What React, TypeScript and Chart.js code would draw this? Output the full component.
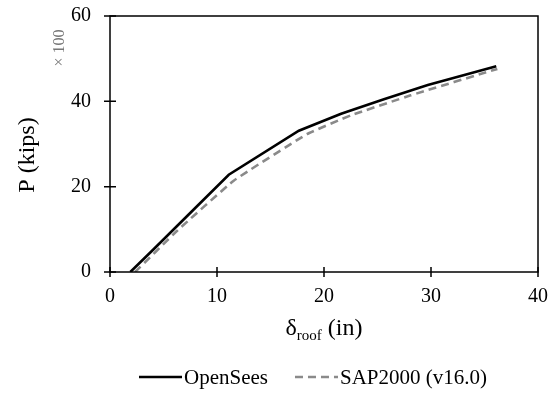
import React, { useEffect, useRef } from 'react';
import { Chart, registerables } from 'chart.js';

Chart.register(...registerables);

// Data
const openSeesDelta = [1.9, 4.1, 7.8, 11.1, 17.65, 21.6, 25.6, 29.7, 36.1];
const openSeesP = [0, 5.4, 14.6, 22.8, 33.1, 37.1, 40.5, 43.8, 48.2];
const sapDelta = [2.34, 6.25, 11.56, 18.4, 22.5, 28.1, 36.2];
const sapP = [0, 9.6, 21.4, 32.3, 36.7, 41.4, 47.6];
const seriesNames = ['OpenSees', 'SAP2000 (v16.0)'];
const xTickValues = [0, 10, 20, 30, 40];
const yTickValues = [0, 20, 40, 60];
const yTitle = 'P (kips)';
const yMultiplier = '\u00d7 100';
const xTitleMain = '\u03b4';
const xTitleSub = 'roof';
const xTitleRest = ' (in)';

const SERIF = "'Liberation Serif', 'Times New Roman', serif";

const zeroPadding = (s: any) => {
  s.paddingTop = 0;
  s.paddingBottom = 0;
  s.paddingLeft = 0;
  s.paddingRight = 0;
};

const decorPlugin = {
  id: 'decor',
  afterDraw(chart: any) {
    const ctx = chart.ctx as CanvasRenderingContext2D;
    const { left, right, top, bottom } = chart.chartArea;
    const xs = chart.scales.x;
    const ys = chart.scales.y;
    ctx.save();
    // frame
    ctx.strokeStyle = '#000';
    ctx.lineWidth = 1.5;
    ctx.setLineDash([]);
    ctx.strokeRect(left, top, right - left, bottom - top);
    // ticks crossing axes
    ctx.beginPath();
    xTickValues.forEach((v) => {
      const px = xs.getPixelForValue(v);
      ctx.moveTo(px, bottom - 5);
      ctx.lineTo(px, bottom + 5);
    });
    yTickValues.forEach((v) => {
      const py = ys.getPixelForValue(v);
      ctx.moveTo(left - 6, py);
      ctx.lineTo(left + 6, py);
    });
    ctx.stroke();

    // x title with subscript
    const mainFont = `24px ${SERIF}`;
    const subFont = `15px ${SERIF}`;
    ctx.fillStyle = '#000';
    ctx.textBaseline = 'alphabetic';
    ctx.textAlign = 'left';
    ctx.font = mainFont;
    const w1 = ctx.measureText(xTitleMain).width;
    const w3 = ctx.measureText(xTitleRest).width;
    ctx.font = subFont;
    const w2 = ctx.measureText(xTitleSub).width;
    const total = w1 + w2 + w3;
    const x0 = (left + right) / 2 - total / 2;
    const base = 335;
    ctx.font = mainFont;
    ctx.fillText(xTitleMain, x0, base);
    ctx.font = subFont;
    ctx.fillText(xTitleSub, x0 + w1, base + 5);
    ctx.font = mainFont;
    ctx.fillText(xTitleRest, x0 + w1 + w2, base);

    // y title
    ctx.save();
    ctx.translate(28, 155);
    ctx.rotate(-Math.PI / 2);
    ctx.textAlign = 'center';
    ctx.textBaseline = 'middle';
    ctx.font = mainFont;
    ctx.fillStyle = '#000';
    ctx.fillText(yTitle, 0, 0);
    ctx.restore();

    // multiplier
    ctx.save();
    ctx.translate(60, 48);
    ctx.rotate(-Math.PI / 2);
    ctx.textAlign = 'center';
    ctx.textBaseline = 'middle';
    ctx.font = `16px ${SERIF}`;
    ctx.fillStyle = '#777';
    ctx.fillText(yMultiplier, 0, 0);
    ctx.restore();

    // legend
    ctx.font = `21px ${SERIF}`;
    const lineLen = 43;
    const gap = 2;
    const itemGap = 27;
    const items = chart.data.datasets.map((d: any) => ({
      ds: d,
      tw: ctx.measureText(d.label).width,
    }));
    const legW =
      items.reduce((s: number, it: any) => s + lineLen + gap + it.tw, 0) +
      itemGap * (items.length - 1);
    let lx = 313 - legW / 2;
    const ly = 377;
    items.forEach((it: any) => {
      ctx.beginPath();
      ctx.strokeStyle = it.ds.borderColor;
      ctx.lineWidth = it.ds.borderWidth;
      ctx.setLineDash(it.ds.borderDash || []);
      ctx.moveTo(lx, ly);
      ctx.lineTo(lx + lineLen, ly);
      ctx.stroke();
      ctx.setLineDash([]);
      ctx.fillStyle = '#000';
      ctx.textAlign = 'left';
      ctx.textBaseline = 'middle';
      ctx.fillText(it.ds.label, lx + lineLen + gap, ly + 1);
      lx += lineLen + gap + it.tw + itemGap;
    });
    ctx.restore();
  },
};

export default function App() {
  const ref = useRef<HTMLCanvasElement | null>(null);
  useEffect(() => {
    document.body.style.margin = '0';
    if (!ref.current) return;
    const chart = new Chart(ref.current, {
      type: 'line',
      data: {
        datasets: [
          {
            label: seriesNames[0],
            data: openSeesDelta.map((x, i) => ({ x, y: openSeesP[i] })),
            borderColor: '#000000',
            borderWidth: 2.6,
            pointRadius: 0,
            fill: false,
            tension: 0,
          },
          {
            label: seriesNames[1],
            data: sapDelta.map((x, i) => ({ x, y: sapP[i] })),
            borderColor: '#8a8a8a',
            borderWidth: 2.6,
            borderDash: [8, 5],
            pointRadius: 0,
            fill: false,
            tension: 0.1,
          },
        ],
      },
      options: {
        responsive: false,
        animation: false,
        layout: { padding: { left: 0, right: 15, top: 16, bottom: 0 } },
        plugins: { legend: { display: false }, tooltip: { enabled: false } },
        scales: {
          x: {
            type: 'linear',
            min: 0,
            max: 40,
            afterBuildTicks: (s: any) => {
              s.ticks = xTickValues.map((v) => ({ value: v }));
            },
            ticks: {
              font: { family: SERIF, size: 20 },
              color: '#000',
              padding: 13,
              maxRotation: 0,
            },
            grid: { display: false, drawTicks: false },
            border: { display: false },
            afterFit: (s: any) => {
              s.height = 396 - 272;
              zeroPadding(s);
            },
          },
          y: {
            type: 'linear',
            min: 0,
            max: 60,
            afterBuildTicks: (s: any) => {
              s.ticks = yTickValues.map((v) => ({ value: v }));
            },
            ticks: {
              font: { family: SERIF, size: 20 },
              color: '#000',
              padding: 19,
            },
            grid: { display: false, drawTicks: false },
            border: { display: false },
            afterFit: (s: any) => {
              s.width = 110;
              zeroPadding(s);
            },
          },
        },
      },
      plugins: [decorPlugin],
    } as any);
    return () => chart.destroy();
  }, []);
  return (
    <div style={{ width: 553, height: 396 }}>
      <canvas ref={ref} width={553} height={396} style={{ display: 'block' }} />
    </div>
  );
}
